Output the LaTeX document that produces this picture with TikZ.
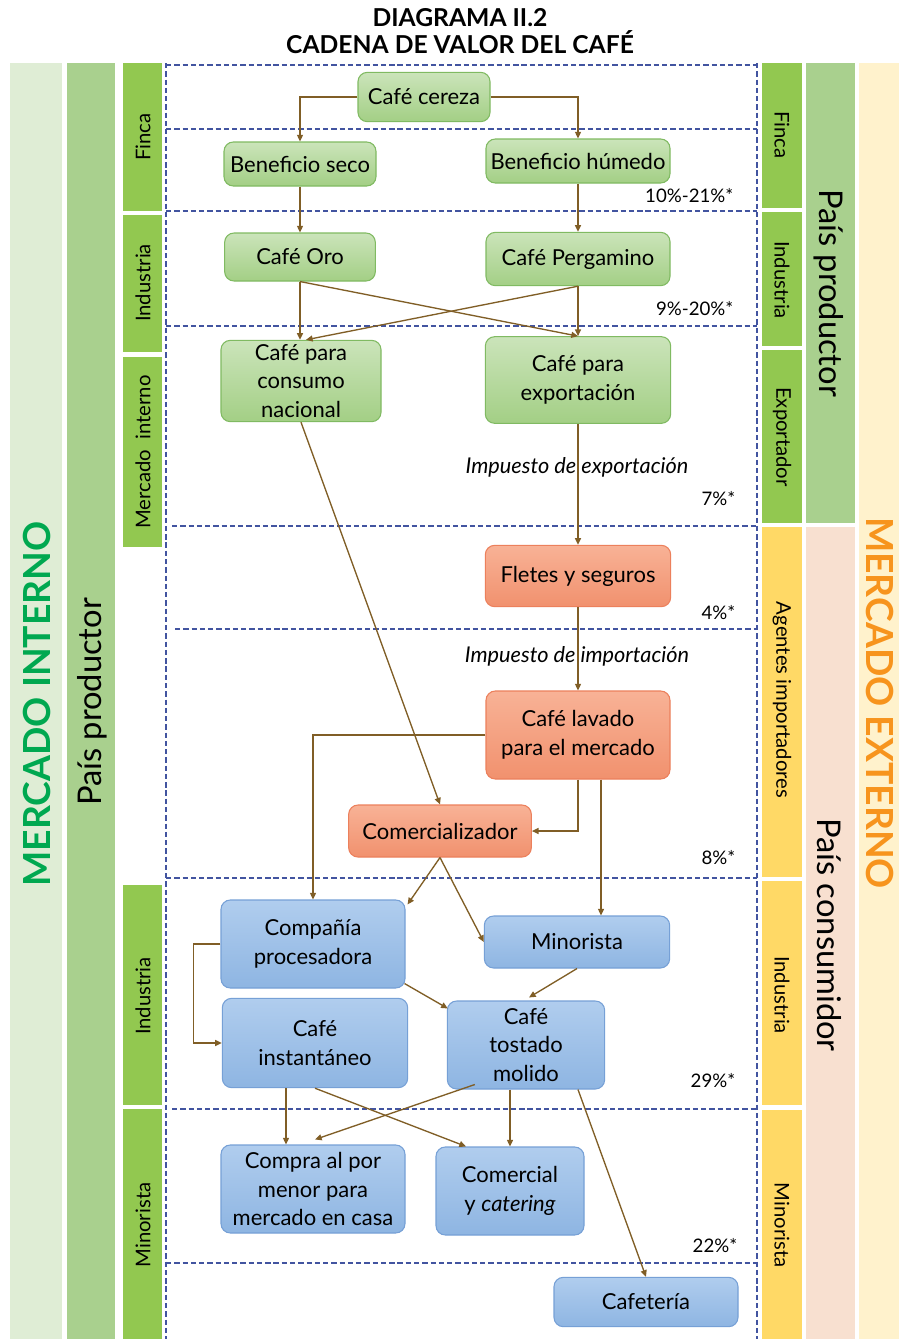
\documentclass[tikz,border=0pt]{standalone}
\usepackage{fontspec}
\setmainfont{Lato}
\usetikzlibrary{arrows.meta,calc}
\definecolor{cvgreentop}{RGB}{203,228,186}
\definecolor{cvgreenbot}{RGB}{163,207,133}
\definecolor{cvgreenline}{RGB}{128,186,98}
\definecolor{cvorangetop}{RGB}{248,178,150}
\definecolor{cvorangebot}{RGB}{241,145,110}
\definecolor{cvorangeline}{RGB}{236,128,92}
\definecolor{cvbluetop}{RGB}{176,205,238}
\definecolor{cvbluebot}{RGB}{142,181,226}
\definecolor{cvblueline}{RGB}{118,160,214}
\definecolor{cvbrown}{RGB}{128,94,38}
\definecolor{cvdash}{RGB}{66,84,160}
\definecolor{cvpale}{RGB}{223,237,213}
\definecolor{cvmid}{RGB}{169,208,142}
\definecolor{cvstage}{RGB}{146,200,80}
\definecolor{cvyellow}{RGB}{255,217,102}
\definecolor{cvpeach}{RGB}{248,224,208}
\definecolor{cvcream}{RGB}{255,242,204}
\definecolor{cvgreentxt}{RGB}{0,168,80}
\definecolor{cvorangetxt}{RGB}{247,148,29}
\tikzset{
  gbox/.style={draw=cvgreenline, top color=cvgreentop, bottom color=cvgreenbot, rounded corners=7pt,
    align=center, inner sep=0pt, line width=0.8pt, font=\fontsize{16.5}{21.5}\selectfont},
  obox/.style={gbox, draw=cvorangeline, top color=cvorangetop, bottom color=cvorangebot},
  bbox/.style={gbox, draw=cvblueline, top color=cvbluetop, bottom color=cvbluebot},
  flow/.style={-{Triangle[length=5pt,width=4.5pt]}, draw=cvbrown, line width=1pt},
  lane/.style={draw=cvdash, line width=0.9pt, dash pattern=on 4pt off 2.2pt},
  stagetxt/.style={font=\fontsize{15.2}{17}\selectfont},
  sharetxt/.style={anchor=east, font=\fontsize{14}{16}\selectfont},
  taxtxt/.style={font=\fontsize{16.3}{19}\selectfont\itshape}
}

\begin{document}
\begin{tikzpicture}[x=0.75pt,y=-0.75pt]
  \useasboundingbox (0,0) rectangle (899,1339);
  \fill[white] (0,0) rectangle (899,1339);

  % title
  \node[font=\fontsize{18.5}{20.5}\selectfont\bfseries, align=center] (title) at (460,31)
    {DIAGRAMA II.2\\CADENA DE VALOR DEL CAFÉ};

  % side bands
  \fill[cvpale] (10,63) rectangle (62,1339);
  \fill[cvmid] (67,63) rectangle (115,1339);
  \fill[cvstage] (123,63) rectangle (162,211);
  \fill[cvstage] (123,215) rectangle (162,352);
  \fill[cvstage] (123,357) rectangle (162,547);
  \fill[cvstage] (123,885) rectangle (162,1105);
  \fill[cvstage] (123,1109) rectangle (162,1339);
  \fill[cvstage] (762,63) rectangle (802,208);
  \fill[cvstage] (762,212) rectangle (802,346);
  \fill[cvstage] (762,350) rectangle (802,523);
  \fill[cvyellow] (762,527) rectangle (802,877);
  \fill[cvyellow] (762,881) rectangle (802,1105);
  \fill[cvyellow] (762,1110) rectangle (802,1339);
  \fill[cvmid] (806,63) rectangle (855,523);
  \fill[cvpeach] (806,527) rectangle (855,1339);
  \fill[cvcream] (859,63) rectangle (899,1339);

  \node[rotate=90, text=cvgreentxt, font=\fontsize{28}{32}\selectfont\bfseries] (mint) at (37,704) {MERCADO INTERNO};
  \node[rotate=90, font=\fontsize{24.5}{28}\selectfont] (lprod) at (92,702) {País productor};
  \node[rotate=90, stagetxt] (lfinca) at (143,137) {Finca};
  \node[rotate=90, stagetxt] (lind) at (143,283) {Industria};
  \node[rotate=90, stagetxt] (lmerc) at (143,452) {Mercado\ \ interno};
  \node[rotate=90, stagetxt] (lind2) at (143,996) {Industria};
  \node[rotate=90, stagetxt] (lmin) at (143,1225) {Minorista};
  \node[rotate=-90, stagetxt] (rfinca) at (782,135) {Finca};
  \node[rotate=-90, stagetxt] (rind) at (782,280) {Industria};
  \node[rotate=-90, stagetxt] (rexp) at (782,437) {Exportador};
  \node[rotate=-90, stagetxt] (rimp) at (782,700) {Agentes importadores};
  \node[rotate=-90, stagetxt] (rind2) at (782,995) {Industria};
  \node[rotate=-90, stagetxt] (rmin) at (782,1225) {Minorista};
  \node[rotate=-90, font=\fontsize{24.5}{28}\selectfont] (rprod) at (829,293) {País productor};
  \node[rotate=-90, font=\fontsize{24.5}{28}\selectfont] (rcons) at (829,935) {País consumidor};
  \node[rotate=-90, text=cvorangetxt, font=\fontsize{28}{32}\selectfont\bfseries] (mext) at (880,703) {MERCADO EXTERNO};

  % lanes
  \draw[lane] (166,63) -- (166,1339);
  \draw[lane] (757,63) -- (757,1339);
  \foreach \yy/\xa in {65/166,129/166,211/166,326/166,526/172,629/175,878/166,1109/172,1263/166}
    \draw[lane] (\xa,\yy) -- (757,\yy);

  % nodes
  \node[gbox, minimum width=99pt, minimum height=37pt] (cereza) at (424,97) {Café cereza};
  \node[gbox, minimum width=114pt, minimum height=33pt] (seco) at (300,164) {Beneficio seco};
  \node[gbox, minimum width=138pt, minimum height=33pt] (humedo) at (578,161) {Beneficio húmedo};
  \node[gbox, minimum width=113pt, minimum height=36pt] (oro) at (300,257) {Café Oro};
  \node[gbox, minimum width=138pt, minimum height=40pt] (perg) at (578,259) {Café Pergamino};
  \node[gbox, minimum width=120pt, minimum height=61pt] (consumo) at (301,381) {Café para\\consumo\\nacional};
  \node[gbox, minimum width=139pt, minimum height=65pt] (export) at (578,380) {Café para\\exportación};
  \node[obox, minimum width=139pt, minimum height=46pt] (fletes) at (578,576) {Fletes y seguros};
  \node[obox, minimum width=138pt, minimum height=66pt] (lavado) at (578,735) {Café lavado\\para el mercado};
  \node[obox, minimum width=137pt, minimum height=39pt] (comer) at (440,831) {Comercializador};
  \node[bbox, minimum width=138pt, minimum height=66pt] (proc) at (313,944) {Compañía\\procesadora};
  \node[bbox, minimum width=139pt, minimum height=39pt] (minor) at (577,942) {Minorista};
  \node[bbox, minimum width=139pt, minimum height=67pt] (inst) at (315,1043) {Café\\instantáneo};
  \node[bbox, minimum width=118pt, minimum height=66pt] (tost) at (526,1045) {Café\\tostado\\molido};
  \node[bbox, minimum width=138pt, minimum height=66pt] (compra) at (313,1189) {Compra al por\\menor para\\mercado en casa};
  \node[bbox, minimum width=111pt, minimum height=66pt] (comcat) at (510,1191) {Comercial\\y \textit{catering}};
  \node[bbox, minimum width=138pt, minimum height=37pt] (cafet) at (646,1302) {Cafetería};

  % shares and taxes
  \node[sharetxt] (s1) at (738,196) {10\%-21\%*};
  \node[sharetxt] (s2) at (738,309) {9\%-20\%*};
  \node[sharetxt] (s3) at (740,499) {7\%*};
  \node[sharetxt] (s4) at (740,613) {4\%*};
  \node[sharetxt] (s5) at (740,858) {8\%*};
  \node[sharetxt] (s6) at (740,1081) {29\%*};
  \node[sharetxt] (s7) at (742,1246) {22\%*};
  \node[taxtxt] (texp) at (577,467) {Impuesto de exportación};
  \node[taxtxt] (timp) at (577,656) {Impuesto de importación};

  % flows
  \draw[flow] (cereza.west) -| (seco.north);
  \draw[flow] (cereza.east) -| (humedo.north);
  \draw[flow] (seco.south) -- (oro.north);
  \draw[flow] (humedo.south) -- (perg.north);
  \draw[flow] (oro.south) -- (consumo.north -| oro.south);
  \draw[flow] (oro.south) -- (export.north);
  \draw[flow] (perg.south) -- (export.north);
  \draw[flow] (perg.south) -- ($(consumo.north)+(5,0)$);
  \draw[flow] (export.south) -- (fletes.north);
  \draw[flow] (fletes.south) -- (lavado.north);
  \draw[flow] (consumo.south) -- (comer.north);
  \draw[flow] (lavado.west) -| (proc.north);
  \draw[flow] (lavado.south) |- (comer.east);
  \coordinate (lavout) at ($(lavado.south)+(23,0)$);
  \draw[flow] (lavout) -- (lavout |- minor.north);
  \draw[flow] (comer.south) -- ($(proc.north east)+(2,5)$);
  \draw[flow] (comer.south) -- (minor.west);
  \draw[flow] (proc.west) -- ++(-27,0) |- (inst.west);
  \draw[flow] ($(proc.south east)+(-1,-5)$) -- ($(tost.north west)+(1,8)$);
  \draw[flow] (minor.south) -- ($(tost.north)+(3,-3)$);
  \coordinate (instout) at ($(inst.south)+(-29,0)$);
  \draw[flow] (instout) -- (instout |- compra.north);
  \draw[flow] (inst.south) -- ($(comcat.north)+(-44,0)$);
  \draw[flow] ($(tost.south west)+(28,-5)$) -- ($(compra.north)+(2,-5)$);
  \draw[flow] (tost.south -| comcat.north) -- (comcat.north);
  \draw[flow] ($(tost.south)+(52,0)$) -- (cafet.north);
\end{tikzpicture}
\end{document}
